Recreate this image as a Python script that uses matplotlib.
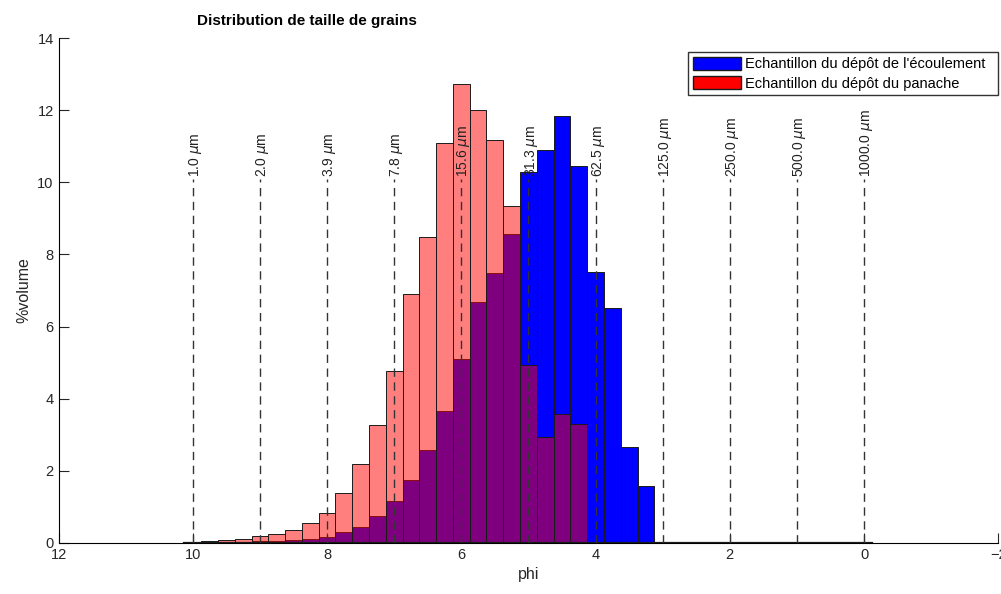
import numpy as np
import matplotlib.pyplot as plt
from matplotlib.patches import Patch

plt.rcParams['font.family'] = ['Liberation Sans', 'DejaVu Sans']

# bin centres (phi), step 0.25
phi = [10.0, 9.75, 9.5, 9.25, 9.0, 8.75, 8.5, 8.25, 8.0, 7.75, 7.5, 7.25,
       7.0, 6.75, 6.5, 6.25, 6.0, 5.75, 5.5, 5.25, 5.0, 4.75, 4.5, 4.25,
       4.0, 3.75, 3.5, 3.25, 3.0, 2.75, 2.5, 2.25, 2.0, 1.75, 1.5, 1.25,
       1.0, 0.75, 0.5, 0.25, 0.0]

# depot de l'ecoulement (blue)
ecoulement = [0.01, 0.02, 0.03, 0.03, 0.04, 0.05, 0.07, 0.10, 0.17, 0.29, 0.45, 0.75,
              1.15, 1.74, 2.58, 3.67, 5.09, 6.69, 7.48, 8.57, 10.29, 10.90, 11.85, 10.46,
              7.51, 6.50, 2.67, 1.59, 0, 0, 0, 0, 0, 0, 0, 0,
              0, 0, 0, 0, 0]

# depot du panache (red)
panache = [0.02, 0.04, 0.07, 0.12, 0.18, 0.26, 0.36, 0.55, 0.82, 1.38, 2.19, 3.28,
           4.78, 6.90, 8.47, 11.10, 12.73, 12.00, 11.17, 9.35, 4.94, 2.93, 3.57, 3.30,
           0, 0, 0, 0, 0, 0, 0, 0, 0, 0, 0, 0,
           0, 0, 0, 0, 0]

lines_phi = [10, 9, 8, 7, 6, 5, 4, 3, 2, 1, 0]
lines_lab = ['1.0', '2.0', '3.9', '7.8', '15.6', '31.3', '62.5', '125.0', '250.0', '500.0', '1000.0']

fig = plt.figure(figsize=(10.01, 5.94), dpi=100)
ax = fig.add_axes([0.0585, 0.086, 0.9388, 0.85])

ax.bar(phi, ecoulement, width=0.25, facecolor=(0, 0, 1), edgecolor='#1a1a1a', linewidth=0.7, zorder=2)
ax.bar(phi, panache, width=0.25, facecolor=(1, 0, 0, 0.5), edgecolor='#1a1a1a', linewidth=0.7, zorder=3)
# baseline under the (empty) bins
ax.plot([phi[0] + 0.125, phi[-1] - 0.125], [0, 0], color='#1a1a1a', linewidth=1.6, zorder=3)

for p, lab in zip(lines_phi, lines_lab):
    ax.plot([p, p], [0, 10.1], color='#333333', linestyle=(0, (6, 4)), linewidth=1.0, zorder=4)
    ax.text(p - 0.04, 10.15, lab + r' $\mu$m', rotation=90, ha='center', va='bottom',
            fontsize=10, color='#222222', zorder=5)

ax.set_xlim(12, -2)
ax.set_ylim(0, 14)
ax.set_xticks([12, 10, 8, 6, 4, 2, 0, -2])
ax.set_yticks(np.arange(0, 15, 2))
ax.spines['top'].set_visible(False)
ax.spines['right'].set_visible(False)
ax.tick_params(direction='in', length=7, labelsize=10.5, colors='#262626')
ax.set_xlabel('phi', fontsize=11.5, color='#262626')
ax.set_ylabel('%volume', fontsize=11.5, color='#262626')

fig.text(0.307, 0.965, 'Distribution de taille de grains', ha='center', va='center',
         fontsize=11, fontweight='bold')

handles = [Patch(facecolor='blue', edgecolor='#1a1a1a'),
           Patch(facecolor='red', edgecolor='#1a1a1a')]
ax.legend(handles, ["Echantillon du dépôt de l'écoulement  ", 'Echantillon du dépôt du panache'],
          loc='upper right', bbox_to_anchor=(1.0, 0.972), fontsize=10.5, fancybox=False,
          edgecolor='#333333', framealpha=1, handlelength=3.3, handleheight=1.0,
          handletextpad=0.3, borderpad=0.3, labelspacing=0.35, borderaxespad=0)

plt.savefig('out.png')
